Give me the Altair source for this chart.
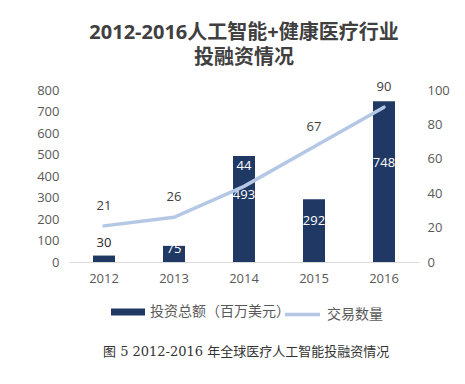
import altair as alt
import pandas as pd

years = ["2012", "2013", "2014", "2015", "2016"]
investment = [30, 75, 493, 292, 748]   # 投资总额（百万美元）
deals = [21, 26, 44, 67, 90]           # 交易数量

df = pd.DataFrame({
    "year": years,
    "inv": investment,
    "deals": deals,
    "s1": ["投资总额（百万美元）"] * 5,
    "s2": ["交易数量"] * 5,
})

FONT = "Open Sans, Noto Sans CJK SC"
NAVY = "#1f3864"
LIGHT = "#b4c8e6"
GREY = "#595959"

x = alt.X("year:N", title=None,
          scale=alt.Scale(paddingInner=0.686, paddingOuter=0.343),
          axis=alt.Axis(labelAngle=0, ticks=False, domainColor="#d9d9d9", domainWidth=1,
                        labelFontSize=13, labelColor=GREY, labelFont=FONT, labelPadding=10))

left_axis = alt.Axis(values=list(range(0, 801, 100)), grid=False, domain=False, ticks=False,
                     labelFontSize=13, labelColor=GREY, labelFont=FONT, labelPadding=10)
left_scale = alt.Scale(domain=[0, 800])
right_axis = alt.Axis(orient="right", values=list(range(0, 101, 20)), grid=False, domain=False,
                      ticks=False, labelFontSize=13, labelColor=GREY, labelFont=FONT,
                      labelPadding=8)
right_scale = alt.Scale(domain=[0, 100])

base = alt.Chart(df)

bars = base.mark_bar(size=22).encode(
    x=x, y=alt.Y("inv:Q", title=None, scale=left_scale, axis=left_axis),
    color=alt.Color("s1:N", scale=alt.Scale(range=[NAVY]),
                    legend=alt.Legend(title=None, orient="none", legendX=42, legendY=205,
                                      symbolType="M-1,-0.2L1,-0.2L1,0.2L-1,0.2Z",
                                      symbolSize=1156, symbolStrokeWidth=0,
                                      labelFontSize=14, labelColor=GREY, labelFont=FONT,
                                      labelOffset=5)),
)

inside = base.transform_filter("datum.inv >= 50").transform_calculate(
    pos="datum.inv * 0.6").mark_text(color="white", fontSize=13, font=FONT, dy=-3).encode(
    x=x, y=alt.Y("pos:Q", title=None, scale=left_scale, axis=left_axis), text="inv:Q")

above = base.transform_filter("datum.inv < 50").mark_text(
    color="#262626", fontSize=13, font=FONT, dy=-13).encode(
    x=x, y=alt.Y("inv:Q", title=None, scale=left_scale, axis=left_axis), text="inv:Q")

left = alt.layer(bars, inside, above)

line = base.mark_line(strokeWidth=3.5, strokeCap="round").encode(
    x=x, y=alt.Y("deals:Q", title=None, scale=right_scale, axis=right_axis),
    stroke=alt.Stroke("s2:N", scale=alt.Scale(range=[LIGHT]),
                      legend=alt.Legend(title=None, orient="none", legendX=214, legendY=205,
                                        symbolType="stroke", symbolSize=1225, symbolStrokeWidth=3.5,
                                        labelFontSize=14, labelColor=GREY, labelFont=FONT,
                                        labelOffset=5)),
)

line_labels = base.transform_calculate(
    inbar="datum.inv / 800 > datum.deals / 100 + 0.1").mark_text(
    fontSize=13, font=FONT, dy=-20).encode(
    x=x, y=alt.Y("deals:Q", title=None, scale=right_scale, axis=right_axis), text="deals:Q",
    color=alt.condition("datum.inbar", alt.value("white"), alt.value("#404040")))

right = alt.layer(line, line_labels)

caption = alt.Chart(pd.DataFrame({"t": ["图 5 2012-2016 年全球医疗人工智能投融资情况"]})).mark_text(
    align="left", baseline="middle", fontSize=13, font="DejaVu Serif, Noto Sans CJK SC",
    color="#333333").encode(x=alt.value(34), y=alt.value(262), text="t:N")

chart = alt.layer(left, right, caption).resolve_scale(y="independent").properties(
    width=350, height=172,
    autosize=alt.AutoSizeParams(type="none"),
    padding={"left": 61, "top": 82, "right": 38, "bottom": 114},
    title=alt.Title(["2012-2016人工智能+健康医疗行业", "投融资情况"],
                    fontSize=20, fontWeight="bold", color="#404040", font=FONT,
                    anchor="middle", lineHeight=25, offset=13),
).configure_view(stroke=None)

chart.save("out.html", embed_options={"renderer": "svg", "actions": False})
